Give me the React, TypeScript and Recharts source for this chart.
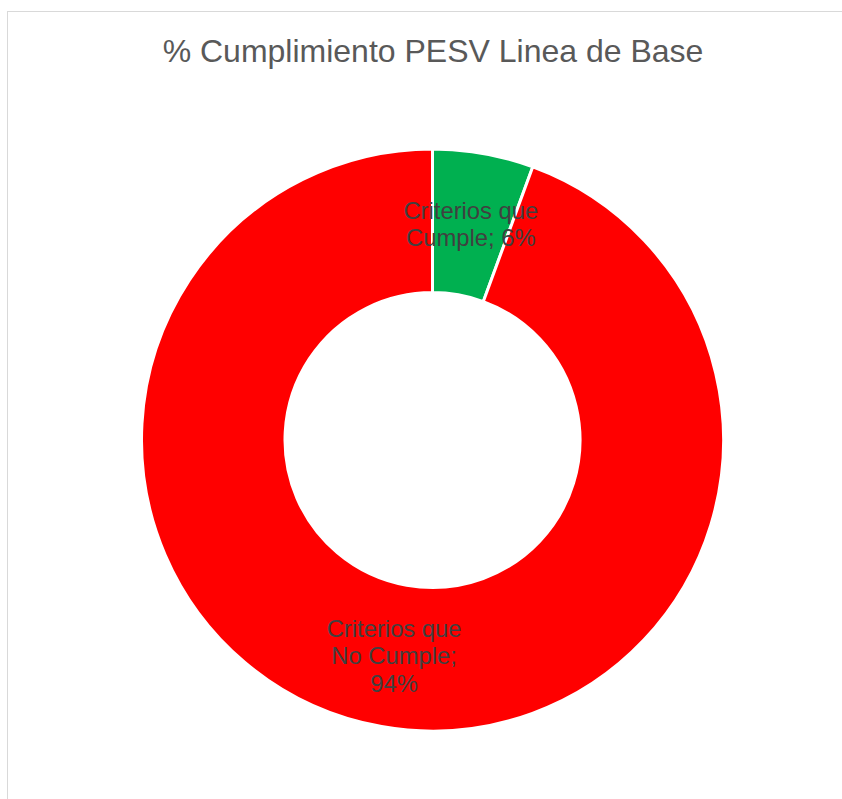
import React from "react";
import { PieChart, Pie, Cell } from "recharts";

const categories = ["Criterios que Cumple", "Criterios que No Cumple"];
const values = [5.6, 94.4];
const colors = ["#00B050", "#FF0000"];
const labelLines = [
  ["Criterios que", "Cumple; 6%"],
  ["Criterios que", "No Cumple;", "94%"],
];
const title = "% Cumplimiento PESV Linea de Base";

const data = categories.map((name, i) => ({ name, value: values[i] }));

const FONT = "'Liberation Sans', Arial, Helvetica, sans-serif";
const RAD = Math.PI / 180;

const renderLabel = (props: any) => {
  const { cx, cy, midAngle, innerRadius, outerRadius, index } = props;
  const r = (innerRadius + outerRadius) / 2;
  const x = cx + r * Math.cos(-midAngle * RAD);
  const y = cy + r * Math.sin(-midAngle * RAD);
  const lines = labelLines[index];
  const lh = 27.5;
  const first = y - ((lines.length - 1) / 2) * lh + 8.5;
  return (
    <text
      key={`lbl-${index}`}
      x={x}
      y={first}
      textAnchor="middle"
      fill="#404040"
      fontSize={23.8}
      fontFamily={FONT}
    >
      {lines.map((l: string, i: number) => (
        <tspan key={i} x={x} y={first + i * lh}>
          {l}
        </tspan>
      ))}
    </text>
  );
};

export default function App() {
  return (
    <div style={{ position: "fixed", left: 0, top: 0, width: 842, height: 799, background: "#fff", overflow: "hidden" }}>
      <div
        style={{
          position: "absolute",
          left: 7,
          top: 11,
          width: 900,
          height: 900,
          border: "1px solid #D9D9D9",
          boxSizing: "border-box",
        }}
      />
      <div style={{ position: "absolute", left: 0, top: 0 }}>
        <PieChart width={842} height={799} margin={{ top: 0, right: 0, bottom: 0, left: 0 }}>
          <text x={433} y={62} textAnchor="middle" fill="#595959" fontSize={32} fontFamily={FONT}>
            {title}
          </text>
          <Pie
            data={data}
            dataKey="value"
            nameKey="name"
            cx={432.5}
            cy={440}
            innerRadius={147.5}
            outerRadius={291}
            startAngle={90}
            endAngle={-270}
            stroke="#FFFFFF"
            strokeWidth={3}
            label={renderLabel}
            labelLine={false}
            isAnimationActive={false}
          >
            {data.map((d, i) => (
              <Cell key={d.name} fill={colors[i]} />
            ))}
          </Pie>
        </PieChart>
      </div>
    </div>
  );
}
